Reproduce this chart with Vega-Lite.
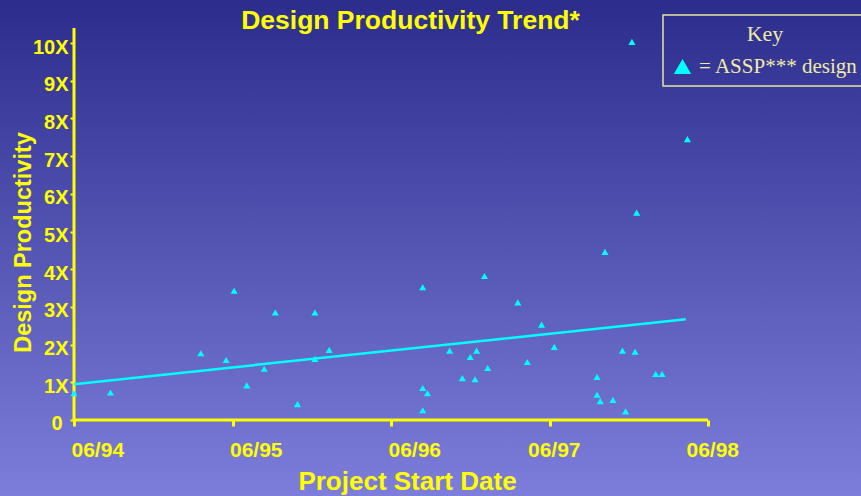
{
  "$schema": "https://vega.github.io/schema/vega-lite/v6.json",
  "width": 861,
  "height": 496,
  "padding": 0,
  "autosize": {"type": "none"},
  "title": {
    "text": "Design Productivity Trend*",
    "font": "Liberation Sans",
    "fontSize": 26.5,
    "fontWeight": "bold",
    "color": "#FFFF00",
    "anchor": "middle",
    "frame": "group",
    "baseline": "alphabetic",
    "offset": -29,
    "dx": -20,
    "dy": 26
  },
  "datasets": {
    "projects": [
      {"start": 1994.50, "productivity": 0.71, "kind": "ASSP*** design"},
      {"start": 1994.73, "productivity": 0.73, "kind": "ASSP*** design"},
      {"start": 1995.30, "productivity": 1.77, "kind": "ASSP*** design"},
      {"start": 1995.46, "productivity": 1.59, "kind": "ASSP*** design"},
      {"start": 1995.51, "productivity": 3.43, "kind": "ASSP*** design"},
      {"start": 1995.59, "productivity": 0.92, "kind": "ASSP*** design"},
      {"start": 1995.70, "productivity": 1.36, "kind": "ASSP*** design"},
      {"start": 1995.77, "productivity": 2.85, "kind": "ASSP*** design"},
      {"start": 1995.91, "productivity": 0.42, "kind": "ASSP*** design"},
      {"start": 1996.02, "productivity": 2.85, "kind": "ASSP*** design"},
      {"start": 1996.02, "productivity": 1.62, "kind": "ASSP*** design"},
      {"start": 1996.11, "productivity": 1.86, "kind": "ASSP*** design"},
      {"start": 1996.70, "productivity": 3.52, "kind": "ASSP*** design"},
      {"start": 1996.70, "productivity": 0.85, "kind": "ASSP*** design"},
      {"start": 1996.73, "productivity": 0.71, "kind": "ASSP*** design"},
      {"start": 1996.70, "productivity": 0.26, "kind": "ASSP*** design"},
      {"start": 1996.87, "productivity": 1.84, "kind": "ASSP*** design"},
      {"start": 1996.95, "productivity": 1.11, "kind": "ASSP*** design"},
      {"start": 1997.00, "productivity": 1.67, "kind": "ASSP*** design"},
      {"start": 1997.04, "productivity": 1.84, "kind": "ASSP*** design"},
      {"start": 1997.03, "productivity": 1.08, "kind": "ASSP*** design"},
      {"start": 1997.09, "productivity": 3.82, "kind": "ASSP*** design"},
      {"start": 1997.11, "productivity": 1.38, "kind": "ASSP*** design"},
      {"start": 1997.30, "productivity": 3.12, "kind": "ASSP*** design"},
      {"start": 1997.36, "productivity": 1.54, "kind": "ASSP*** design"},
      {"start": 1997.45, "productivity": 2.53, "kind": "ASSP*** design"},
      {"start": 1997.53, "productivity": 1.94, "kind": "ASSP*** design"},
      {"start": 1997.80, "productivity": 1.14, "kind": "ASSP*** design"},
      {"start": 1997.80, "productivity": 0.67, "kind": "ASSP*** design"},
      {"start": 1997.82, "productivity": 0.50, "kind": "ASSP*** design"},
      {"start": 1997.85, "productivity": 4.46, "kind": "ASSP*** design"},
      {"start": 1997.90, "productivity": 0.53, "kind": "ASSP*** design"},
      {"start": 1997.96, "productivity": 1.84, "kind": "ASSP*** design"},
      {"start": 1998.04, "productivity": 1.81, "kind": "ASSP*** design"},
      {"start": 1997.98, "productivity": 0.23, "kind": "ASSP*** design"},
      {"start": 1998.17, "productivity": 1.22, "kind": "ASSP*** design"},
      {"start": 1998.21, "productivity": 1.22, "kind": "ASSP*** design"},
      {"start": 1998.02, "productivity": 10.03, "kind": "ASSP*** design"},
      {"start": 1998.37, "productivity": 7.45, "kind": "ASSP*** design"},
      {"start": 1998.05, "productivity": 5.50, "kind": "ASSP*** design"}
    ],
    "trend": [
      {"start": 1994.50, "productivity": 0.95},
      {"start": 1998.36, "productivity": 2.67}
    ]
  },
  "layer": [
    {
      "data": {"values": [{}]},
      "mark": {"type": "rule", "color": "#FFFF00", "strokeWidth": 3},
      "encoding": {
        "x": {
          "datum": 1994.5,
          "type": "quantitative",
          "title": "Project Start Date",
          "scale": {"domain": [1994.0331, 1999.4653], "nice": false, "zero": false},
          "axis": {
            "orient": "bottom",
            "offset": -76,
            "values": [1994.5, 1995.5, 1996.5, 1997.5, 1998.5],
            "labelExpr": "'06/' + substring(toString(floor(datum.value)), 2, 4)",
            "labelAlign": "left",
            "labelOffset": {"condition": {"test": "datum.value > 1997", "value": -22}, "value": -3},
            "labelFontSize": 21,
            "labelPadding": 13,
            "tickSize": 6,
            "tickWidth": 3,
            "titleFontSize": 26,
            "titleX": 407,
            "titleY": 69,
            "titleBaseline": "alphabetic"
          }
        },
        "x2": {"datum": 1998.5},
        "y": {
          "datum": 0,
          "type": "quantitative",
          "title": "Design Productivity",
          "scale": {"domain": [-2.016, 11.141], "nice": false, "zero": false},
          "axis": {
            "orient": "left",
            "offset": -74,
            "values": [0, 1, 2, 3, 4, 5, 6, 7, 8, 9, 10],
            "labelExpr": "datum.value == 0 ? '0' : datum.value + 'X'",
            "labelFontSize": 20,
            "labelPadding": {"condition": {"test": "datum.value == 0", "value": 8}, "value": 2},
            "labelOffset": 4,
            "tickSize": 4,
            "tickWidth": 2,
            "titleFontSize": 23.5,
            "titleX": -44,
            "titleY": 242,
            "titleBaseline": "alphabetic"
          }
        }
      }
    },
    {
      "data": {"values": [{}]},
      "mark": {"type": "rule", "color": "#FFFF00", "strokeWidth": 3},
      "encoding": {
        "x": {"datum": 1994.5, "type": "quantitative", "title": "Project Start Date"},
        "y": {"datum": 0, "type": "quantitative", "title": "Design Productivity"},
        "y2": {"datum": 10.4}
      }
    },
    {
      "data": {"name": "trend"},
      "mark": {"type": "line", "color": "#00FFFF", "strokeWidth": 2.5},
      "encoding": {
        "x": {"field": "start", "type": "quantitative", "title": "Project Start Date"},
        "y": {"field": "productivity", "type": "quantitative", "title": "Design Productivity"}
      }
    },
    {
      "data": {"name": "projects"},
      "mark": {"type": "point", "filled": true, "size": 50, "opacity": 1, "strokeWidth": 0},
      "encoding": {
        "x": {"field": "start", "type": "quantitative", "title": "Project Start Date"},
        "y": {"field": "productivity", "type": "quantitative", "title": "Design Productivity"},
        "color": {
          "field": "kind",
          "type": "nominal",
          "scale": {"range": ["#00FFFF"]},
          "legend": {"title": "Key", "labelExpr": "'= ' + datum.label"}
        },
        "shape": {
          "field": "kind",
          "type": "nominal",
          "scale": {"range": ["triangle-up"]},
          "legend": {"title": "Key", "labelExpr": "'= ' + datum.label"}
        }
      }
    }
  ],
  "config": {
    "view": {
      "stroke": null,
      "fill": {
        "gradient": "linear",
        "x1": 0, "y1": 0, "x2": 0, "y2": 1,
        "stops": [
          {"offset": 0, "color": "#2C2C8D"},
          {"offset": 1, "color": "#7D7DDB"}
        ]
      }
    },
    "axis": {
      "grid": false,
      "domain": false,
      "tickColor": "#FFFF00",
      "labelColor": "#FFFF00",
      "labelFont": "Liberation Sans",
      "labelFontWeight": "bold",
      "titleColor": "#FFFF00",
      "titleFont": "Liberation Sans",
      "titleFontWeight": "bold"
    },
    "legend": {
      "orient": "none",
      "legendX": 663,
      "legendY": 15,
      "padding": 9,
      "strokeColor": "#E6E3A0",
      "strokeWidth": 1.5,
      "titleFont": "Liberation Serif",
      "titleFontSize": 22,
      "titleFontWeight": "normal",
      "titleColor": "#EEEBA5",
      "titleAnchor": "middle",
      "titlePadding": 10,
      "labelFont": "Liberation Serif",
      "labelFontSize": 21,
      "labelColor": "#EEEBA5",
      "labelOffset": 6,
      "symbolSize": 300,
      "symbolStrokeWidth": 0
    }
  }
}
